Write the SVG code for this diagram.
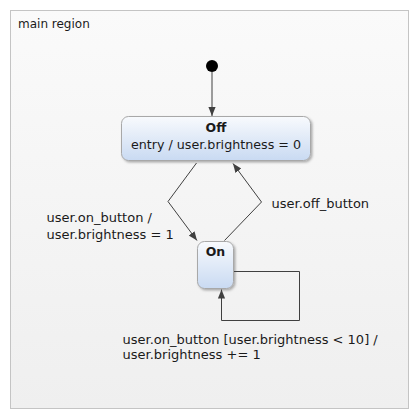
<svg xmlns="http://www.w3.org/2000/svg" width="420" height="420" viewBox="0 0 420 420">
<style>
text{font-family:"DejaVu Sans",Verdana,sans-serif;font-size:13px;fill:#1a1a1a}
.r{font-size:12px}
.e{font-size:12.7px}
.b{font-weight:bold;font-size:12.5px}
.st{fill:url(#ng);stroke:#a8a8a8;stroke-width:1;filter:url(#sh)}
.cn{fill:none;stroke:#404040;stroke-width:1;marker-end:url(#ar)}
</style>
<defs>
<linearGradient id="rg" x1="0" y1="0" x2="0" y2="1"><stop offset="0" stop-color="#fafafa"/><stop offset="1" stop-color="#efefef"/></linearGradient>
<linearGradient id="ng" x1="0" y1="0" x2="0" y2="1"><stop offset="0" stop-color="#f8fafd"/><stop offset="1" stop-color="#c9daf2"/></linearGradient>
<filter id="sh" x="-20%" y="-20%" width="150%" height="150%"><feDropShadow dx="1.5" dy="1.5" stdDeviation="1" flood-color="#000" flood-opacity="0.3"/></filter>
<marker id="ar" viewBox="0 0 10 10" refX="10" refY="5" markerWidth="9" markerHeight="9" markerUnits="userSpaceOnUse" orient="auto"><path d="M0,1 L10,5 L0,9 z" fill="#404040"/></marker>
</defs>
<g id="main-region">
<rect x="10.5" y="10.5" width="398" height="398" fill="url(#rg)" stroke="#c4c4c4"/>
<text class="r" x="18" y="28">main region</text>
</g>
<g id="initial"><circle cx="212" cy="66" r="6" fill="#000"/></g>
<g id="Off">
<rect class="st" x="121.5" y="116.5" width="189" height="44" rx="7"/>
<text class="b" x="216" y="132" text-anchor="middle">Off</text>
<text class="e" x="216" y="149" text-anchor="middle">entry / user.brightness = 0</text>
</g>
<g id="On">
<rect class="st" x="197.5" y="241.5" width="36" height="47" rx="7"/>
<text class="b" x="215.5" y="256" text-anchor="middle">On</text>
</g>
<g id="connectors">
<path class="cn" d="M212,72 L212,116"/>
<path class="cn" d="M196.5,163 L168,201.5 L197,240.5"/>
<path class="cn" d="M224.5,240.5 L261.5,202 L233,163.5"/>
<path class="cn" d="M234,271.5 H299.5 V320.5 H221.5 V289.5"/>
<text x="46.5" y="222">user.on_button /</text>
<text x="46.5" y="239">user.brightness = 1</text>
<text x="271.5" y="208">user.off_button</text>
<text x="122.5" y="344">user.on_button [user.brightness &lt; 10] /</text>
<text x="122.5" y="359">user.brightness += 1</text>
</g>
</svg>
